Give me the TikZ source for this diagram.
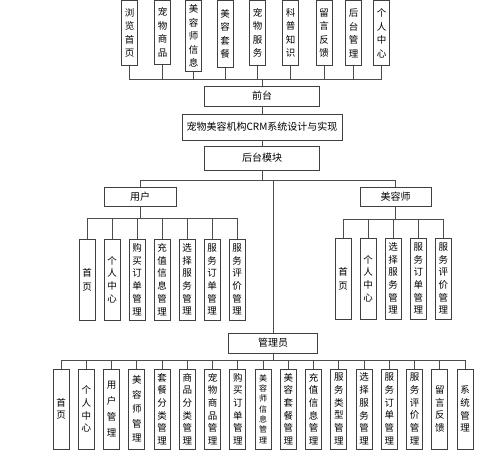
\documentclass[tikz,border=0pt]{standalone}
\usepackage{fontspec}
\newfontfamily\cjk{Noto Sans CJK SC}
\usetikzlibrary{positioning}

\tikzset{
  box/.style={rectangle,draw=black!75,line width=0.7pt,inner sep=0pt,font=\cjk\fontsize{10}{12}\selectfont},
  vbox/.style={box,minimum width=16pt,align=center,font=\cjk\fontsize{9.5}{12.7}\selectfont},
  topbox/.style={vbox,anchor=north,font=\cjk\fontsize{9.5}{13.5}\selectfont},
  link/.style={draw=black!70,line width=0.7pt}
}

\begin{document}
\begin{tikzpicture}[x=1pt,y=-1pt]
\useasboundingbox (0,0) rectangle (499,457);

\node[topbox,minimum height=64.5pt] (front1) at (129.5,0.5) {浏\\览\\首\\页};
\node[topbox,minimum height=63.5pt,right=16.3pt of front1.north east,anchor=north west] (front2) {宠\\物\\商\\品};
\node[topbox,minimum height=70.5pt,right=14.3pt of front2.north east,anchor=north west] (front3) {美\\容\\师\\信\\息};
\node[topbox,minimum height=66.5pt,right=14.8pt of front3.north east,anchor=north west] (front4) {美\\容\\套\\餐};
\node[topbox,minimum height=64.5pt,right=15.8pt of front4.north east,anchor=north west] (front5) {宠\\物\\服\\务};
\node[topbox,minimum height=64.5pt,right=16.3pt of front5.north east,anchor=north west] (front6) {科\\普\\知\\识};
\node[topbox,minimum height=64.5pt,right=16.8pt of front6.north east,anchor=north west] (front7) {留\\言\\反\\馈};
\node[topbox,minimum height=64.5pt,right=12.8pt of front7.north east,anchor=north west] (front8) {后\\台\\管\\理};
\node[topbox,minimum height=64.5pt,right=11.3pt of front8.north east,anchor=north west] (front9) {个\\人\\中\\心};
\coordinate (frontbus) at (262,79);
\draw[link] (front1) |- (frontbus);
\draw[link] (front2) |- (frontbus);
\draw[link] (front3) |- (frontbus);
\draw[link] (front4) |- (frontbus);
\draw[link] (front5) |- (frontbus);
\draw[link] (front6) |- (frontbus);
\draw[link] (front7) |- (frontbus);
\draw[link] (front8) |- (frontbus);
\draw[link] (front9) |- (frontbus);

\node[box,minimum width=115pt,minimum height=20pt] (qiantai) at (262,96) {前台};
\node[box,minimum width=160pt,minimum height=26pt,below=7.3pt of qiantai] (xitong) {宠物美容机构CRM系统设计与实现};
\node[box,minimum width=115pt,minimum height=24pt,below=5.3pt of xitong] (houtai) {后台模块};
\draw[link] (frontbus) -- (qiantai);
\draw[link] (qiantai) -- (xitong);
\draw[link] (xitong) -- (houtai);

\coordinate (backbus) at (262,180);
\node[box,minimum width=72pt,minimum height=19pt] (yonghu) at (140,196.5) {用户};
\node[box,minimum width=71pt,minimum height=19pt] (meirongshi) at (395.5,196.5) {美容师};
\node[box,minimum width=89pt,minimum height=20pt] (guanliyuan) at (273,343) {管理员};
\draw[link] (houtai) -- (backbus);
\draw[link] (backbus) -| (yonghu);
\draw[link] (backbus) -| (meirongshi);
\draw[link] (backbus) -| (guanliyuan);

\node[vbox,minimum height=81pt,font=\cjk\fontsize{9.5}{14}\selectfont] (user1) at (87,279.5) {首\\页};
\node[vbox,minimum height=81pt,right=8.3pt of user1] (user2) {个\\人\\中\\心};
\node[vbox,minimum height=81pt,right=8.3pt of user2] (user3) {购\\买\\订\\单\\管\\理};
\node[vbox,minimum height=81pt,right=8.3pt of user3] (user4) {充\\值\\信\\息\\管\\理};
\node[vbox,minimum height=81pt,right=8.3pt of user4] (user5) {选\\择\\服\\务\\管\\理};
\node[vbox,minimum height=81pt,right=8.3pt of user5] (user6) {服\\务\\订\\单\\管\\理};
\node[vbox,minimum height=81pt,right=8.3pt of user6] (user7) {服\\务\\评\\价\\管\\理};
\coordinate (userbus) at (140,218);
\draw[link] (yonghu) -- (userbus);
\draw[link] (user1) |- (userbus);
\draw[link] (user2) |- (userbus);
\draw[link] (user3) |- (userbus);
\draw[link] (user4) |- (userbus);
\draw[link] (user5) |- (userbus);
\draw[link] (user6) |- (userbus);
\draw[link] (user7) |- (userbus);

\node[vbox,minimum height=81pt,font=\cjk\fontsize{9.5}{14}\selectfont] (mrs1) at (343,278.5) {首\\页};
\node[vbox,minimum height=81pt,right=8.4pt of mrs1] (mrs2) {个\\人\\中\\心};
\node[vbox,minimum height=81pt,right=8.4pt of mrs2] (mrs3) {选\\择\\服\\务\\管\\理};
\node[vbox,minimum height=81pt,right=8.4pt of mrs3] (mrs4) {服\\务\\订\\单\\管\\理};
\node[vbox,minimum height=81pt,right=8.4pt of mrs4] (mrs5) {服\\务\\评\\价\\管\\理};
\coordinate (mrsbus) at (395.5,219);
\draw[link] (meirongshi) -- (mrsbus);
\draw[link] (mrs1) |- (mrsbus);
\draw[link] (mrs2) |- (mrsbus);
\draw[link] (mrs3) |- (mrsbus);
\draw[link] (mrs4) |- (mrsbus);
\draw[link] (mrs5) |- (mrsbus);

\node[vbox,minimum height=80pt] (admin1) at (61,409) {首\\页};
\node[vbox,minimum height=80pt,right=8.55pt of admin1] (admin2) {个\\人\\中\\心};
\node[vbox,minimum height=80pt,right=8.55pt of admin2,font=\cjk\fontsize{9.5}{16}\selectfont] (admin3) {用\\户\\管\\理};
\node[vbox,minimum height=80pt,right=8.55pt of admin3,font=\cjk\fontsize{9.5}{14.5}\selectfont] (admin4) {美\\容\\师\\管\\理};
\node[vbox,minimum height=80pt,right=8.55pt of admin4] (admin5) {套\\餐\\分\\类\\管\\理};
\node[vbox,minimum height=80pt,right=8.55pt of admin5] (admin6) {商\\品\\分\\类\\管\\理};
\node[vbox,minimum height=80pt,right=8.55pt of admin6] (admin7) {宠\\物\\商\\品\\管\\理};
\node[vbox,minimum height=80pt,right=8.55pt of admin7] (admin8) {购\\买\\订\\单\\管\\理};
\node[vbox,minimum height=80pt,right=8.55pt of admin8,font=\cjk\fontsize{8}{10.3}\selectfont] (admin9) {美\\容\\师\\信\\息\\管\\理};
\node[vbox,minimum height=80pt,right=8.55pt of admin9] (admin10) {美\\容\\套\\餐\\管\\理};
\node[vbox,minimum height=80pt,right=8.55pt of admin10] (admin11) {充\\值\\信\\息\\管\\理};
\node[vbox,minimum height=80pt,right=8.55pt of admin11] (admin12) {服\\务\\类\\型\\管\\理};
\node[vbox,minimum height=80pt,right=8.55pt of admin12] (admin13) {选\\择\\服\\务\\管\\理};
\node[vbox,minimum height=80pt,right=8.55pt of admin13] (admin14) {服\\务\\订\\单\\管\\理};
\node[vbox,minimum height=80pt,right=8.55pt of admin14] (admin15) {服\\务\\评\\价\\管\\理};
\node[vbox,minimum height=80pt,right=8.55pt of admin15] (admin16) {留\\言\\反\\馈};
\node[vbox,minimum height=80pt,right=8.55pt of admin16] (admin17) {系\\统\\管\\理};
\coordinate (adminbus) at (273,360);
\draw[link] (guanliyuan) -- (adminbus);
\draw[link] (admin1) |- (adminbus);
\draw[link] (admin2) |- (adminbus);
\draw[link] (admin3) |- (adminbus);
\draw[link] (admin4) |- (adminbus);
\draw[link] (admin5) |- (adminbus);
\draw[link] (admin6) |- (adminbus);
\draw[link] (admin7) |- (adminbus);
\draw[link] (admin8) |- (adminbus);
\draw[link] (admin9) |- (adminbus);
\draw[link] (admin10) |- (adminbus);
\draw[link] (admin11) |- (adminbus);
\draw[link] (admin12) |- (adminbus);
\draw[link] (admin13) |- (adminbus);
\draw[link] (admin14) |- (adminbus);
\draw[link] (admin15) |- (adminbus);
\draw[link] (admin16) |- (adminbus);
\draw[link] (admin17) |- (adminbus);
\end{tikzpicture}
\end{document}
